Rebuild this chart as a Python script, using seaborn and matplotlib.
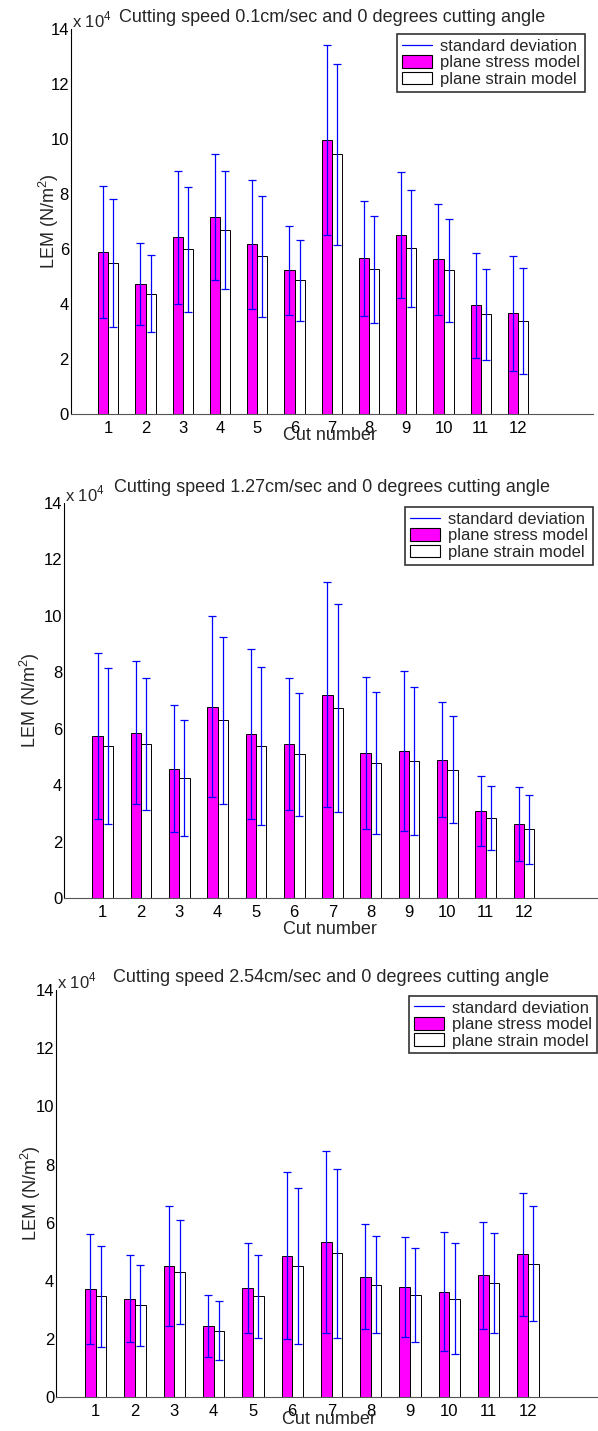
import numpy as np
import pandas as pd
import matplotlib
matplotlib.use('Agg')
import matplotlib.pyplot as plt
import seaborn as sns
from matplotlib.lines import Line2D
from matplotlib.patches import Patch

# Data (LEM values in units of 10^4 N/m^2)
cuts = list(range(1, 13))

titles = ['Cutting speed 0.1cm/sec and 0 degrees cutting angle',
          'Cutting speed 1.27cm/sec and 0 degrees cutting angle',
          'Cutting speed 2.54cm/sec and 0 degrees cutting angle']

# 0.1 cm/sec
stress_mean_01 = [5.88, 4.74, 6.42, 7.18, 6.17, 5.22, 9.95, 5.66, 6.50, 5.62, 3.95, 3.66]
stress_std_01 = [2.40, 1.49, 2.43, 2.29, 2.35, 1.62, 3.45, 2.08, 2.29, 2.03, 1.91, 2.10]
strain_mean_01 = [5.49, 4.38, 5.99, 6.69, 5.73, 4.86, 9.44, 5.26, 6.02, 5.22, 3.62, 3.38]
strain_std_01 = [2.31, 1.40, 2.27, 2.13, 2.20, 1.48, 3.29, 1.94, 2.12, 1.87, 1.65, 1.93]

# 1.27 cm/sec
stress_mean_127 = [5.74, 5.86, 4.58, 6.78, 5.81, 5.45, 7.20, 5.14, 5.22, 4.90, 3.07, 2.63]
stress_std_127 = [2.93, 2.52, 2.25, 3.20, 3.00, 2.33, 3.98, 2.70, 2.83, 2.03, 1.24, 1.31]
strain_mean_127 = [5.37, 5.45, 4.25, 6.29, 5.37, 5.09, 6.73, 4.78, 4.86, 4.54, 2.82, 2.43]
strain_std_127 = [2.76, 2.35, 2.07, 2.97, 2.80, 2.17, 3.68, 2.50, 2.63, 1.89, 1.13, 1.22]

# 2.54 cm/sec
stress_mean_254 = [3.72, 3.39, 4.51, 2.43, 3.75, 4.86, 5.34, 4.14, 3.78, 3.62, 4.19, 4.91]
stress_std_254 = [1.89, 1.49, 2.08, 1.07, 1.55, 2.88, 3.13, 1.81, 1.73, 2.05, 1.84, 2.12]
strain_mean_254 = [3.46, 3.15, 4.30, 2.28, 3.46, 4.51, 4.94, 3.86, 3.51, 3.39, 3.91, 4.59]
strain_std_254 = [1.74, 1.40, 1.79, 1.02, 1.43, 2.70, 2.90, 1.67, 1.63, 1.91, 1.72, 1.98]

models = ['plane stress model', 'plane strain model']
colors = {'plane stress model': '#ff00ff', 'plane strain model': 'white'}

panels = [
    (stress_mean_01, stress_std_01, strain_mean_01, strain_std_01),
    (stress_mean_127, stress_std_127, strain_mean_127, strain_std_127),
    (stress_mean_254, stress_std_254, strain_mean_254, strain_std_254),
]

sns.set_style('white')
plt.rcParams['font.family'] = ['Liberation Sans', 'DejaVu Sans']
plt.rcParams['mathtext.fontset'] = 'custom'
plt.rcParams['mathtext.rm'] = 'Liberation Sans'
fs = 12
fs_title = 13

W, H = 598, 1431
fig = plt.figure(figsize=(W / 100, H / 100), dpi=100)

# axes layout in pixels: left, bottom(y of zero), top(y of 14), px per unit on x
layout = [(71, 414, 29, 37.25), (64.4, 898, 502.7, 38.3), (56.4, 1397, 990.3, 39.3)]
legend_pos = [(585, 34), (592.7, 507), (597, 995.7)]
title_pad = [5, 7.5, 6]
ylab_off = [-22, -34, -25]
xlab_off = [-22, -31, -22]

off = 0.135
for k, (sm, ss, tm, ts) in enumerate(panels):
    left, bot, top, sp = layout[k]
    width_px = 14 * sp
    ax = fig.add_axes([left / W, 1 - bot / H, width_px / W, (bot - top) / H])

    df = pd.DataFrame({
        'cut': cuts + cuts,
        'model': [models[0]] * 12 + [models[1]] * 12,
        'LEM': sm + tm,
    })
    sns.barplot(data=df, x='cut', y='LEM', hue='model', hue_order=models,
                palette=colors, native_scale=True, width=0.54, dodge=True,
                errorbar=None, saturation=1, edgecolor='black', linewidth=0.7,
                legend=False, ax=ax)

    x = np.array(cuts)
    ax.errorbar(x - off, sm, yerr=ss, fmt='none', ecolor='blue', elinewidth=0.9,
                capsize=3, capthick=0.9, zorder=5)
    ax.errorbar(x + off, tm, yerr=ts, fmt='none', ecolor='blue', elinewidth=0.9,
                capsize=3, capthick=0.9, zorder=5)

    ax.set_xlim(0, 14)
    ax.set_ylim(0, 14)
    ax.set_xticks(cuts)
    ax.set_xticklabels([str(c) for c in cuts])
    ax.set_yticks(range(0, 15, 2))
    ax.tick_params(axis='both', direction='in', length=4, width=0.6, labelsize=fs,
                   colors='black')
    ax.tick_params(axis='x', pad=5, length=0)
    ax.tick_params(axis='y', pad=1.5)
    for s in ['top', 'right']:
        ax.spines[s].set_visible(False)
    ax.spines['left'].set_color('black')
    ax.spines['left'].set_linewidth(0.8)
    ax.spines['bottom'].set_color('#555555')
    ax.spines['bottom'].set_linewidth(0.8)

    ax.set_title(titles[k], fontsize=fs_title, pad=title_pad[k])
    ax.annotate('x 10$^{4}$', xy=(0, 1), xycoords='axes fraction', xytext=(0.5, 6.5),
                textcoords='offset points', ha='left', va='center', fontsize=fs)

    ax.set_ylabel('LEM (N/m$^{2}$)', fontsize=fs_title, va='center')
    ax.yaxis.set_label_coords(ylab_off[k] / width_px, 0.5)
    ax.set_xlabel('Cut number', fontsize=fs_title, va='center')
    ax.xaxis.set_label_coords(0.496, xlab_off[k] / (bot - top))

    handles = [Line2D([], [], color='blue', lw=0.9),
               Patch(facecolor='#ff00ff', edgecolor='black', linewidth=0.8),
               Patch(facecolor='white', edgecolor='black', linewidth=0.8)]
    lx, ly = legend_pos[k]
    leg = ax.legend(handles, ['standard deviation'] + models, loc='upper right',
                    bbox_to_anchor=(lx / W, 1 - ly / H), bbox_transform=fig.transFigure,
                    fontsize=fs, frameon=True, fancybox=False, borderpad=0.28,
                    labelspacing=0.08, handlelength=1.8, handleheight=0.8,
                    handletextpad=0.5, borderaxespad=0)
    leg.get_frame().set_edgecolor('black')
    leg.get_frame().set_linewidth(1.2)

fig.savefig('out.png', dpi=100)
